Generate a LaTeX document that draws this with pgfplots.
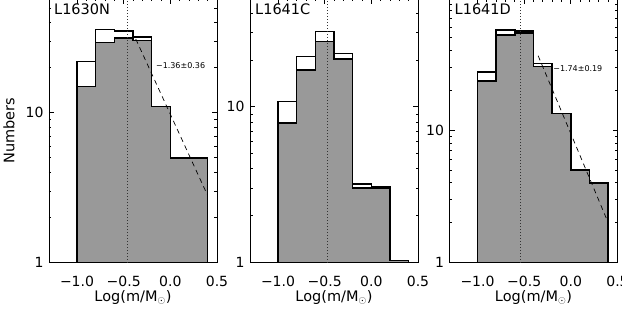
\documentclass[border=0pt]{standalone}
\usepackage{fontspec}
\setmainfont{DejaVu Sans}
\usepackage{pgfplots}
\pgfplotsset{compat=1.18}
\definecolor{histgray}{RGB}{153,153,153}
\newcommand{\fs}{\fontsize{14.5}{16}\selectfont}
\newcommand{\fst}{\fontsize{14}{16}\selectfont}
\newcommand{\fss}{\fontsize{8}{9}\selectfont}
\pgfplotsset{
  mypanel/.style={
    scale only axis, width=168pt, height=263.5pt,
    anchor=south west,
    xmin=-1.3, xmax=0.5, ymin=1,
    xtick={-1,-0.5,0,0.5}, xticklabels={−1.0,−0.5,0.0,0.5},
    minor x tick num=4,
    ytick={1,10}, yticklabels={1,10},
    minor ytick={2,3,4,5,6,7,8,9,20,30,40,50,60,70,80,90},
    tick align=inside, tick pos=both,
    major tick length=5pt, minor tick length=2.5pt,
    axis line style={line width=0.9pt},
    every tick/.style={black, line width=0.7pt},
    tick label style={font=\fst},
    xticklabel style={anchor=center, yshift=-18.5pt},
    yticklabel style={xshift=-2pt},
    label style={font=\fs},
    xlabel={Log(m/M$_\odot$)},
    xlabel style={at={([yshift=-35pt]axis description cs:0.5,0)}, anchor=center},
    clip=true,
  },
  mywh/.style={draw=black, line width=1.6pt},
  mygr/.style={fill=histgray, draw=black, line width=1.6pt},
  mydot/.style={black!80, dash pattern=on 1pt off 2pt, line width=1pt},
  myfit/.style={black, dash pattern=on 5pt off 4pt, line width=0.7pt},
}
\begin{document}
\begin{tikzpicture}
\useasboundingbox (0,0) rectangle (622pt,309pt);
% Panel 1
\begin{semilogyaxis}[mypanel, at={(49pt,46.5pt)}, ymax=57.4,
  ylabel={Numbers},
  ylabel style={at={([xshift=-40pt]axis description cs:0,0.5)}, anchor=center}]
\addplot[mywh] coordinates {(-1,1) (-1,22) (-0.8,22) (-0.8,36) (-0.6,36) (-0.6,35) (-0.4,35) (-0.4,32) (-0.2,32) (-0.2,11) (0,11) (0,5) (0.2,5) (0.4,5) (0.4,1)};
\addplot[mygr] coordinates {(-1,1) (-1,15) (-0.8,15) (-0.8,29.5) (-0.6,29.5) (-0.6,31.5) (-0.4,31.5) (-0.4,30.4) (-0.2,30.4) (-0.2,11) (0,11) (0,5) (0.2,5) (0.4,5) (0.4,1)} --cycle;
\addplot[mydot] coordinates {(-0.455,1) (-0.455,57.4)};
\addplot[myfit] coordinates {(-0.37,31) (0.4,2.8)};
\node[anchor=west, font=\fss, inner sep=0pt] at (axis cs:-0.155,20.7) {−1.36±0.36};
\node[anchor=base west, font=\fs, inner sep=0pt] at ([xshift=5pt,yshift=-15pt]rel axis cs:0,1) {L1630N};
\end{semilogyaxis}
% Panel 2
\begin{semilogyaxis}[mypanel, at={(250pt,46.5pt)}, ymax=49.2]
\addplot[mywh] coordinates {(-1,1) (-1,10.8) (-0.8,10.8) (-0.8,21) (-0.6,21) (-0.6,30.5) (-0.4,30.5) (-0.4,22) (-0.2,22) (-0.2,3.2) (0,3.2) (0,3.08) (0.2,3.08) (0.2,1.03) (0.4,1.03) (0.4,1)};
\addplot[mygr] coordinates {(-1,1) (-1,7.9) (-0.8,7.9) (-0.8,17.2) (-0.6,17.2) (-0.6,26.3) (-0.4,26.3) (-0.4,20.2) (-0.2,20.2) (-0.2,3.0) (0,3.0) (0,3.0) (0.2,3.0) (0.2,1.03) (0.4,1.03) (0.4,1)} --cycle;
\addplot[mydot] coordinates {(-0.473,1) (-0.473,49.2)};
\node[anchor=base west, font=\fs, inner sep=0pt] at ([xshift=5pt,yshift=-15pt]rel axis cs:0,1) {L1641C};
\end{semilogyaxis}
% Panel 3
\begin{semilogyaxis}[mypanel, at={(449.5pt,46.5pt)}, ymax=98]
\addplot[mywh] coordinates {(-1,1) (-1,27.6) (-0.8,27.6) (-0.8,57) (-0.6,57) (-0.6,56.3) (-0.4,56.3) (-0.4,31.9) (-0.2,31.9) (-0.2,13.4) (0,13.4) (0,5) (0.2,5) (0.2,4) (0.4,4) (0.4,1)};
\addplot[mygr] coordinates {(-1,1) (-1,23.6) (-0.8,23.6) (-0.8,52.2) (-0.6,52.2) (-0.6,54.1) (-0.4,54.1) (-0.4,30.3) (-0.2,30.3) (-0.2,13.4) (0,13.4) (0,5) (0.2,5) (0.2,4) (0.4,4) (0.4,1)} --cycle;
\addplot[mydot] coordinates {(-0.537,1) (-0.537,98)};
\addplot[myfit] coordinates {(-0.35,36.5) (0.4,2.0)};
\node[anchor=west, font=\fss, inner sep=0pt] at (axis cs:-0.19,29.2) {−1.74±0.19};
\node[anchor=base west, font=\fs, inner sep=0pt] at ([xshift=5pt,yshift=-15pt]rel axis cs:0,1) {L1641D};
\end{semilogyaxis}
\end{tikzpicture}
\end{document}
